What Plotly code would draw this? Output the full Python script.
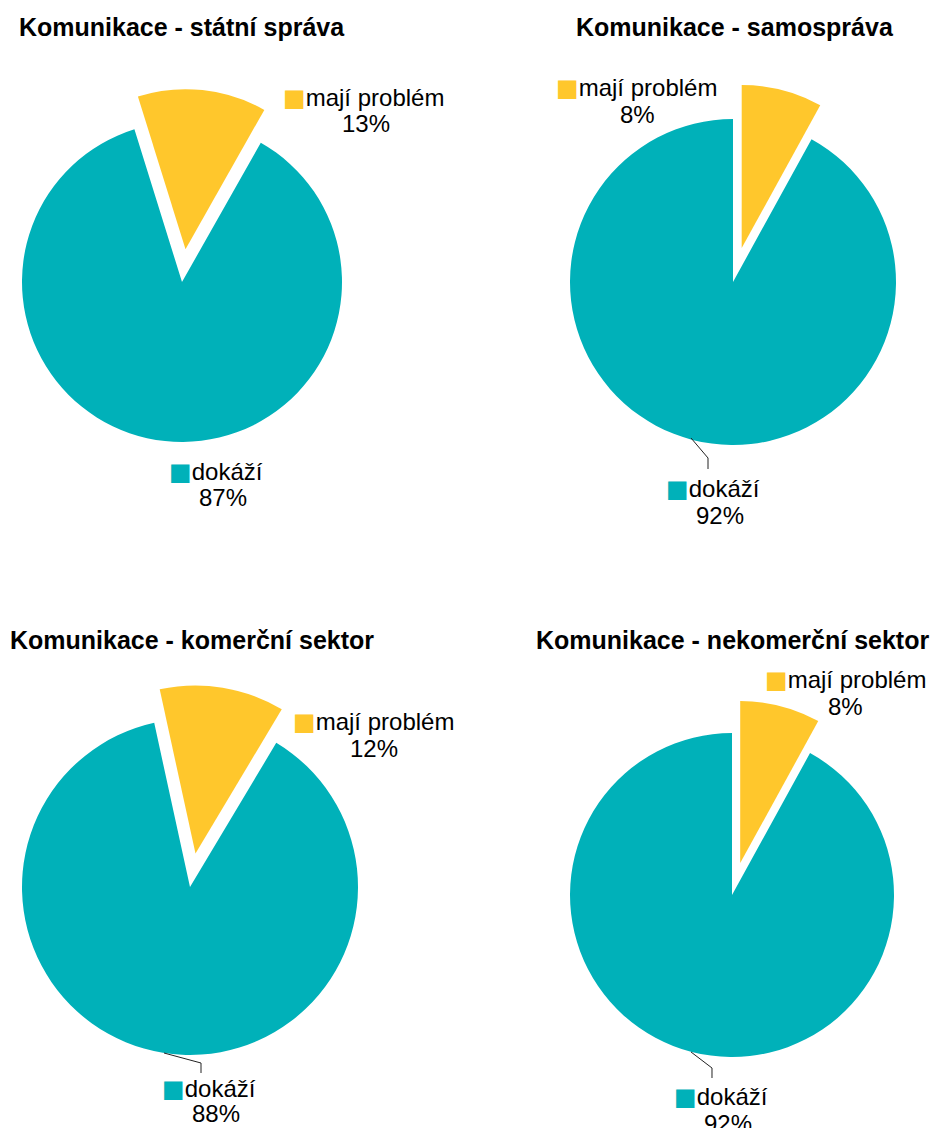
import math
import plotly.graph_objects as go

# ---------------- data ----------------
categories = ["mají problém", "dokáží"]
titles = [
    "Komunikace - státní správa",
    "Komunikace - samospráva",
    "Komunikace - komerční sektor",
    "Komunikace - nekomerční sektor",
]
problem_pct = [13, 8, 12, 8]
ok_pct = [87, 92, 88, 92]

# ---------------- style / layout ----------------
W, H = 931, 1128
TEAL = "#00B1B9"
YELLOW = "#FFC72C"
FONT = "Liberation Sans, Arial, sans-serif"

# per pie: vertex (px), radius, rotation (deg), explode distance (px)
pies = [
    dict(c=(182, 282), r=160, rot=-17.3, d=33),
    dict(c=(733, 282), r=163, rot=0, d=35),
    dict(c=(190, 887), r=168, rot=-12.3, d=34),
    dict(c=(732, 895), r=162, rot=0, d=33),
]
title_pos = [(182, 27), (735, 27), (192, 640), (732, 640)]
# label line centers (line 1 / line 2) for problem and ok labels
lab_problem = [((363, 98), (366, 123)), ((636, 88), (637, 114)),
               ((373, 722), (374, 748)), ((845, 680), (845, 706))]
lab_ok = [((216, 472), (223, 498)), ((713, 489), (720, 515)),
          ((209, 1089), (216, 1113)), ((721, 1097), (728, 1123))]
leaders = [None,
           [(691, 438), (708, 458), (708, 469)],
           [(164, 1053), (201, 1063), (201, 1073)],
           [(691, 1052), (712, 1068), (712, 1078)]]

def px(x):
    return x / W

def py(y):
    return 1 - y / H

def domain(cx, cy, r):
    return dict(x=[px(cx - r), px(cx + r)], y=[py(cy + r), py(cy - r)])

fig = go.Figure()
annotations = []
shapes = []

for i, p in enumerate(pies):
    vals = [problem_pct[i], ok_pct[i]]
    cx, cy = p["c"]
    r = p["r"]
    # teal base pie (problem slice transparent)
    fig.add_trace(go.Pie(
        labels=categories, values=vals, sort=False, direction="clockwise",
        rotation=p["rot"], textinfo="none", hoverinfo="label+percent",
        marker=dict(colors=["rgba(0,0,0,0)", TEAL], line=dict(width=0)),
        domain=domain(cx, cy, r), showlegend=False,
    ))
    # exploded yellow slice
    frac = vals[0] / sum(vals)
    mid = math.radians(p["rot"] + frac * 360 / 2)
    ex = cx + p["d"] * math.sin(mid)
    ey = cy - p["d"] * math.cos(mid)
    fig.add_trace(go.Pie(
        labels=categories, values=vals, sort=False, direction="clockwise",
        rotation=p["rot"], textinfo="none", hoverinfo="label+percent",
        marker=dict(colors=[YELLOW, "rgba(0,0,0,0)"], line=dict(width=0)),
        domain=domain(ex, ey, r), showlegend=False,
    ))

    tx, ty = title_pos[i]
    annotations.append(dict(
        x=px(tx), y=py(ty), xref="paper", yref="paper", showarrow=False,
        text="<b>" + titles[i] + "</b>", xanchor="center", yanchor="middle",
        font=dict(family=FONT, size=25, color="#000000"),
    ))
    for (l1, l2), name, val, col in [
        (lab_problem[i], categories[0], problem_pct[i], YELLOW),
        (lab_ok[i], categories[1], ok_pct[i], TEAL),
    ]:
        annotations.append(dict(
            x=px(l1[0]), y=py(l1[1]), xref="paper", yref="paper", showarrow=False,
            text="<span style='color:%s;font-family:DejaVu Sans'>■</span>%s" % (col, name),
            xanchor="center", yanchor="middle",
            font=dict(family=FONT, size=24, color="#000000"),
        ))
        annotations.append(dict(
            x=px(l2[0]), y=py(l2[1]), xref="paper", yref="paper", showarrow=False,
            text="%d%%" % val, xanchor="center", yanchor="middle",
            font=dict(family=FONT, size=24, color="#000000"),
        ))
    if leaders[i]:
        pts = leaders[i]
        path = "M %f %f" % (px(pts[0][0]), py(pts[0][1]))
        for q in pts[1:]:
            path += " L %f %f" % (px(q[0]), py(q[1]))
        shapes.append(dict(type="path", xref="paper", yref="paper", path=path,
                           line=dict(color="#222222", width=1)))

fig.update_layout(
    width=W, height=H,
    margin=dict(l=0, r=0, t=0, b=0),
    paper_bgcolor="#FFFFFF", plot_bgcolor="#FFFFFF",
    annotations=annotations, shapes=shapes,
    showlegend=False,
)

fig.write_html("out.html")
